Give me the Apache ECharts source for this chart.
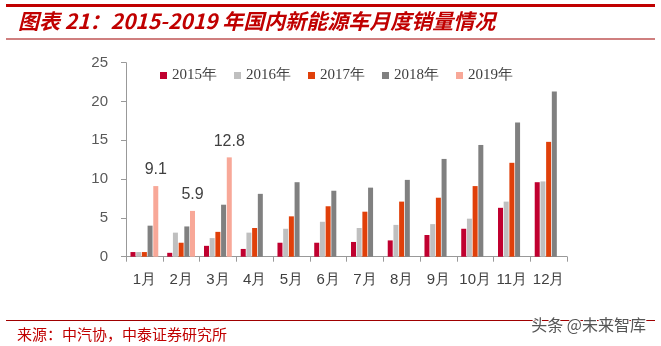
<!DOCTYPE html>
<html>
<head>
<meta charset="utf-8">
<script src="https://cdn.jsdelivr.net/npm/echarts@6/dist/echarts.min.js"></script>
<style>html,body{margin:0;padding:0;background:#fff;}#c{width:661px;height:346px;}</style>
</head>
<body>
<div id="c"></div>
<script>
var months = ['1月','2月','3月','4月','5月','6月','7月','8月','9月','10月','11月','12月'];
var s2015 = [0.6, 0.5, 1.4, 1.0, 1.8, 1.8, 1.9, 2.1, 2.8, 3.6, 6.3, 9.6];
var s2016 = [0.6, 3.1, 2.4, 3.1, 3.6, 4.5, 3.7, 4.1, 4.2, 4.9, 7.1, 9.7];
var s2017 = [0.6, 1.8, 3.2, 3.7, 5.2, 6.5, 5.8, 7.1, 7.6, 9.1, 12.1, 14.8];
var s2018 = [4.0, 3.9, 6.7, 8.1, 9.6, 8.5, 8.9, 9.9, 12.6, 14.4, 17.3, 21.3];
var s2019 = [9.1, 5.9, 12.8, null, null, null, null, null, null, null, null, null];
var seriesNames = ['2015年','2016年','2017年','2018年','2019年'];
var yTicks = [0, 5, 10, 15, 20, 25];
var colors = ['#C0002F', '#BFBFBF', '#E0400A', '#808080', '#F8A898'];

var chart = echarts.init(document.getElementById('c'));
var dataSets = [s2015, s2016, s2017, s2018, s2019];
var series = dataSets.map(function (d, i) {
  var s = {
    name: seriesNames[i],
    type: 'bar',
    data: d,
    barWidth: 5,
    barGap: '14%',
    itemStyle: { color: colors[i] }
  };
  if (i === 4) {
    s.label = {
      show: true, position: 'top', distance: 8,
      fontFamily: 'Liberation Sans', fontSize: 16, color: '#404040',
      formatter: function (p) { return p.value.toFixed(1); }
    };
  }
  return s;
});

chart.setOption({
  animation: false,
  backgroundColor: '#fff',
  grid: { left: 126, right: 94, top: 62.7, bottom: 89.3, containLabel: false },
  legend: {
    data: seriesNames,
    left: 155, top: 63,
    itemWidth: 7, itemHeight: 7, itemGap: 17,
    icon: 'rect',
    textStyle: { fontFamily: 'Liberation Serif', fontSize: 15, color: '#404040' }
  },
  xAxis: {
    type: 'category',
    data: months,
    axisLine: { lineStyle: { color: '#999999' } },
    axisTick: { show: true, length: 5, lineStyle: { color: '#999999' } },
    axisLabel: { interval: 0, margin: 16, fontFamily: 'Liberation Sans', fontSize: 15, color: '#404040' }
  },
  yAxis: {
    type: 'value',
    min: yTicks[0], max: yTicks[yTicks.length - 1], interval: 5,
    axisLine: { show: true, lineStyle: { color: '#999999' } },
    axisTick: { show: true, length: 5, lineStyle: { color: '#999999' } },
    splitLine: { show: false },
    axisLabel: { margin: 18, fontFamily: 'Liberation Sans', fontSize: 15, color: '#595959' }
  },
  series: series,
  graphic: [
    { type: 'rect', shape: { x: 6, y: 4, width: 649, height: 3 }, style: { fill: '#C00000' } },
    { type: 'text', left: 18, top: 11, style: { text: '图表 21：2015-2019 年国内新能源车月度销量情况', fill: '#C00000', font: 'italic bold 21px "Noto Sans CJK SC", "Liberation Sans", sans-serif' } },
    { type: 'rect', shape: { x: 6, y: 38.5, width: 649, height: 1 }, style: { fill: '#A00000' } },
    { type: 'rect', shape: { x: 6, y: 320, width: 649, height: 1 }, style: { fill: '#A00000' } },
    { type: 'text', left: 17, top: 327, style: { text: '来源：中汽协，中泰证券研究所', fill: '#C00000', font: '15px "Noto Sans CJK SC", sans-serif' } },
    { type: 'text', right: 14, top: 316, style: { text: '头条 @未来智库', fill: '#555555', stroke: '#ffffff', lineWidth: 2, font: '16px "Noto Sans CJK SC", sans-serif' } }
  ]
});
</script>
</body>
</html>
